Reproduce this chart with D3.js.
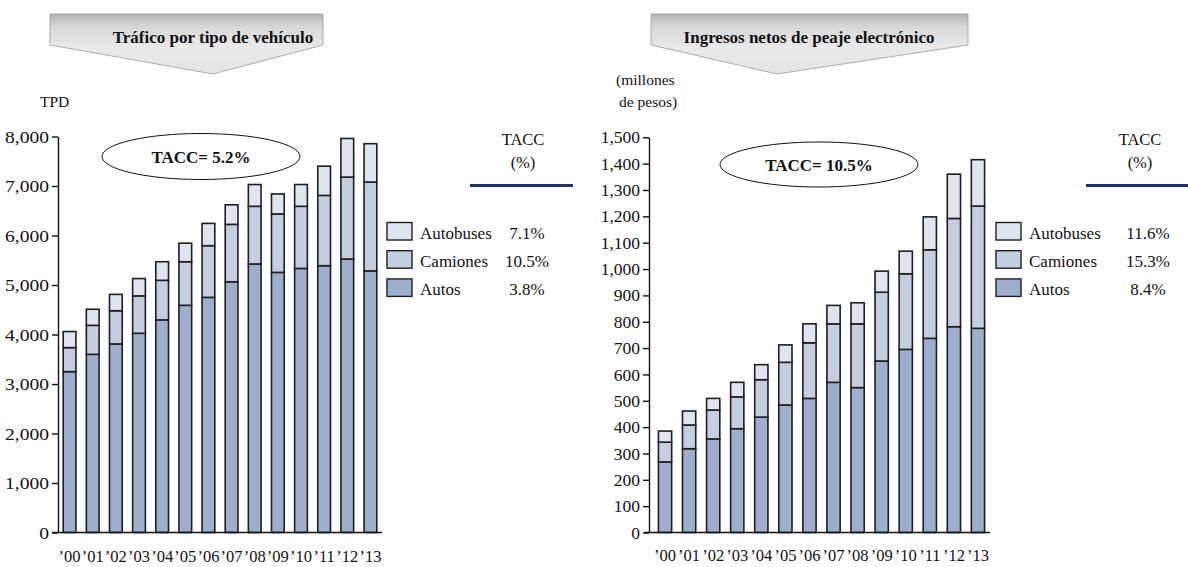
<!DOCTYPE html>
<html>
<head>
<meta charset="utf-8">
<script src="https://cdn.jsdelivr.net/npm/d3@7/dist/d3.min.js"></script>
<style>
  html, body { margin: 0; padding: 0; background: #fff; }
  svg { display: block; }
  svg text { font-family: "Liberation Serif", "Times New Roman", serif; fill: #111; }
</style>
</head>
<body>
<svg id="chart" width="1188" height="567"></svg>
<script>
// Years shown on both panels
const years = ["’00","’01","’02","’03","’04","’05","’06","’07","’08","’09","’10","’11","’12","’13"];
const seriesKeys = ["Autos", "Camiones", "Autobuses"];
const legendOrder = ["Autobuses", "Camiones", "Autos"];

// Traffic (TPD) by vehicle type
const traficoAutos     = [3250, 3600, 3810, 4025, 4295, 4590, 4750, 5065, 5425, 5255, 5335, 5390, 5525, 5285];
const traficoCamiones  = [ 485,  585,  670,  755,  800,  880, 1045, 1160, 1165, 1180, 1255, 1420, 1655, 1795];
const traficoAutobuses = [ 325,  325,  330,  350,  375,  375,  450,  395,  440,  405,  440,  590,  780,  775];
const traficoTicks = [0, 1000, 2000, 3000, 4000, 5000, 6000, 7000, 8000];
const traficoTacc = { Autobuses: "7.1%", Camiones: "10.5%", Autos: "3.8%" };
const traficoTotalTacc = "TACC= 5.2%";

// Net electronic toll revenue (millions of pesos)
const ingresosAutos     = [268, 318, 355, 394, 438, 484, 509, 570, 550, 651, 695, 737, 781, 775];
const ingresosCamiones  = [ 75,  90, 110, 121, 142, 162, 211, 222, 242, 261, 287, 336, 411, 464];
const ingresosAutobuses = [ 42,  53,  44,  55,  57,  66,  72,  70,  80,  80,  86, 125, 168, 176];
const ingresosTicks = d3.range(0, 1501, 100);
const ingresosTacc = { Autobuses: "11.6%", Camiones: "15.3%", Autos: "8.4%" };
const ingresosTotalTacc = "TACC= 10.5%";

const colors = { Autos: "#9cafcc", Camiones: "#c4cee1", Autobuses: "#dfe5ef" };
const serif = "'Liberation Serif', 'Times New Roman', serif";

const svg = d3.select("#chart");
const defs = svg.append("defs");
const grad = defs.append("linearGradient").attr("id", "hdrGrad")
  .attr("x1", 0).attr("y1", 0).attr("x2", 0).attr("y2", 1);
grad.append("stop").attr("offset", "0%").attr("stop-color", "#b2b2b2");
grad.append("stop").attr("offset", "20%").attr("stop-color", "#d6d6d6");
grad.append("stop").attr("offset", "55%").attr("stop-color", "#e9e9e9");
grad.append("stop").attr("offset", "100%").attr("stop-color", "#e4e4e4");

function toRows(a, c, b) {
  return years.map((y, i) => ({ year: y, Autos: a[i], Camiones: c[i], Autobuses: b[i] }));
}

function panel(cfg) {
  const g = svg.append("g");

  // Header banner (down-pointing arrow)
  const h = cfg.header;
  const pts = [[h.x0, h.top], [h.x1, h.top], [h.x1, h.bottom], [h.tip, h.tipY], [h.x0, h.bottom]];
  g.append("path")
    .attr("d", d3.line()(pts) + "Z")
    .attr("fill", "url(#hdrGrad)")
    .attr("stroke", "#9a9a9a")
    .attr("stroke-width", 0.8);
  g.append("text")
    .attr("x", h.textX).attr("y", h.textY)
    .attr("text-anchor", "middle")
    .style("font-family", serif)
    .attr("font-weight", "bold").attr("font-size", 17)
    .text(cfg.title);

  // Unit label
  cfg.unit.forEach((u) => {
    g.append("text").attr("x", u.x).attr("y", u.y).attr("font-size", 15.5)
      .style("font-family", serif).text(u.t);
  });

  const y = d3.scaleLinear().domain([0, cfg.max]).range([cfg.y0, cfg.y1]);
  const x = d3.scaleBand().domain(years).range([cfg.xr0, cfg.xr1]).paddingInner(0.45).paddingOuter(0.225);

  const stacked = d3.stack().keys(seriesKeys)(cfg.rows);

  // Bars
  stacked.forEach((s) => {
    g.append("g").selectAll("rect").data(s).join("rect")
      .attr("x", (d) => x(d.data.year))
      .attr("width", x.bandwidth())
      .attr("y", (d) => y(d[1]))
      .attr("height", (d) => y(d[0]) - y(d[1]))
      .attr("fill", colors[s.key])
      .attr("stroke", "#1e1e1e")
      .attr("stroke-width", 1.6);
  });

  // Y axis
  const ya = g.append("g")
    .attr("transform", `translate(${cfg.axisX},0)`)
    .call(d3.axisLeft(y).tickValues(cfg.ticks).tickSize(6).tickSizeOuter(0).tickPadding(3)
      .tickFormat(d3.format(",")));
  ya.attr("font-family", null);
  ya.select(".domain").attr("stroke", "#111").attr("stroke-width", 1.4);
  ya.selectAll(".tick line").attr("stroke", "#111").attr("stroke-width", 1.4);
  ya.selectAll(".tick text")
    .style("font-family", serif)
    .attr("font-size", 17.5).attr("fill", "#111")
    .attr("x", 0)
    .attr("transform", `translate(-9,0) scale(${cfg.labelStretch},1)`);

  // X axis labels and baseline
  const xa = g.append("g")
    .attr("transform", `translate(0,${cfg.y0})`)
    .call(d3.axisBottom(x).tickSize(0).tickPadding(cfg.xPad));
  xa.attr("font-family", null);
  xa.select(".domain").remove();
  xa.selectAll(".tick text")
    .style("font-family", serif)
    .attr("font-size", 16.5).attr("fill", "#111");
  g.append("line")
    .attr("x1", cfg.baseX0).attr("x2", cfg.baseX1)
    .attr("y1", cfg.y0).attr("y2", cfg.y0)
    .attr("stroke", "#111").attr("stroke-width", 1.4);

  // Growth ellipse
  g.append("ellipse")
    .attr("cx", cfg.ell.cx).attr("cy", cfg.ell.cy)
    .attr("rx", cfg.ell.rx).attr("ry", cfg.ell.ry)
    .attr("fill", "none").attr("stroke", "#111").attr("stroke-width", 1);
  g.append("text")
    .attr("x", cfg.ell.cx).attr("y", cfg.ell.cy + 6)
    .attr("text-anchor", "middle")
    .style("font-family", serif)
    .attr("font-weight", "bold").attr("font-size", 17)
    .text(cfg.totalTacc);

  // TACC header and rule
  const L = cfg.legend;
  g.append("text").attr("x", L.taccX).attr("y", 145).attr("text-anchor", "middle")
    .style("font-family", serif).attr("font-size", 16.5).text("TACC");
  g.append("text").attr("x", L.taccX).attr("y", 168).attr("text-anchor", "middle")
    .style("font-family", serif).attr("font-size", 16.5).text("(%)");
  g.append("line")
    .attr("x1", L.ruleX0).attr("x2", L.ruleX1).attr("y1", 185.5).attr("y2", 185.5)
    .attr("stroke", "#1b3470").attr("stroke-width", 3);

  // Legend
  legendOrder.forEach((k, i) => {
    const yy = 222.5 + i * 28.2;
    g.append("rect")
      .attr("x", L.boxX).attr("y", yy).attr("width", 25).attr("height", 17.5)
      .attr("fill", colors[k]).attr("stroke", "#1e1e1e").attr("stroke-width", 1.4);
    g.append("text").attr("x", L.boxX + 33).attr("y", yy + 16)
      .style("font-family", serif).attr("font-size", 17).text(k);
    g.append("text").attr("x", L.valX).attr("y", yy + 16).attr("text-anchor", "middle")
      .style("font-family", serif).attr("font-size", 17).text(cfg.tacc[k]);
  });
}

panel({
  title: "Tráfico por tipo de vehículo",
  header: { x0: 50, x1: 323, top: 14, bottom: 45, tip: 213, tipY: 74, textX: 213, textY: 43 },
  unit: [{ x: 40, y: 107, t: "TPD" }],
  rows: toRows(traficoAutos, traficoCamiones, traficoAutobuses),
  max: 8000, ticks: traficoTicks,
  y0: 532.5, y1: 136.5,
  xr0: 58, xr1: 382, axisX: 58, baseX0: 52, baseX1: 382,
  labelStretch: 1.12, xPad: 18,
  ell: { cx: 201, cy: 156.5, rx: 99, ry: 23 },
  totalTacc: traficoTotalTacc,
  tacc: traficoTacc,
  legend: { taccX: 523, ruleX0: 470, ruleX1: 573, boxX: 387, valX: 527 }
});

panel({
  title: "Ingresos netos de peaje electrónico",
  header: { x0: 651, x1: 968, top: 14, bottom: 45, tip: 777, tipY: 74, textX: 809, textY: 43 },
  unit: [{ x: 616, y: 85, t: "(millones" }, { x: 619, y: 107, t: "de pesos)" }],
  rows: toRows(ingresosAutos, ingresosCamiones, ingresosAutobuses),
  max: 1500, ticks: ingresosTicks,
  y0: 532.5, y1: 137.3,
  xr0: 653, xr1: 990, axisX: 649, baseX0: 644, baseX1: 990,
  labelStretch: 1.0, xPad: 17,
  ell: { cx: 819, cy: 164.5, rx: 99, ry: 22.5 },
  totalTacc: ingresosTotalTacc,
  tacc: ingresosTacc,
  legend: { taccX: 1140, ruleX0: 1086, ruleX1: 1188, boxX: 996, valX: 1148 }
});
</script>
</body>
</html>
